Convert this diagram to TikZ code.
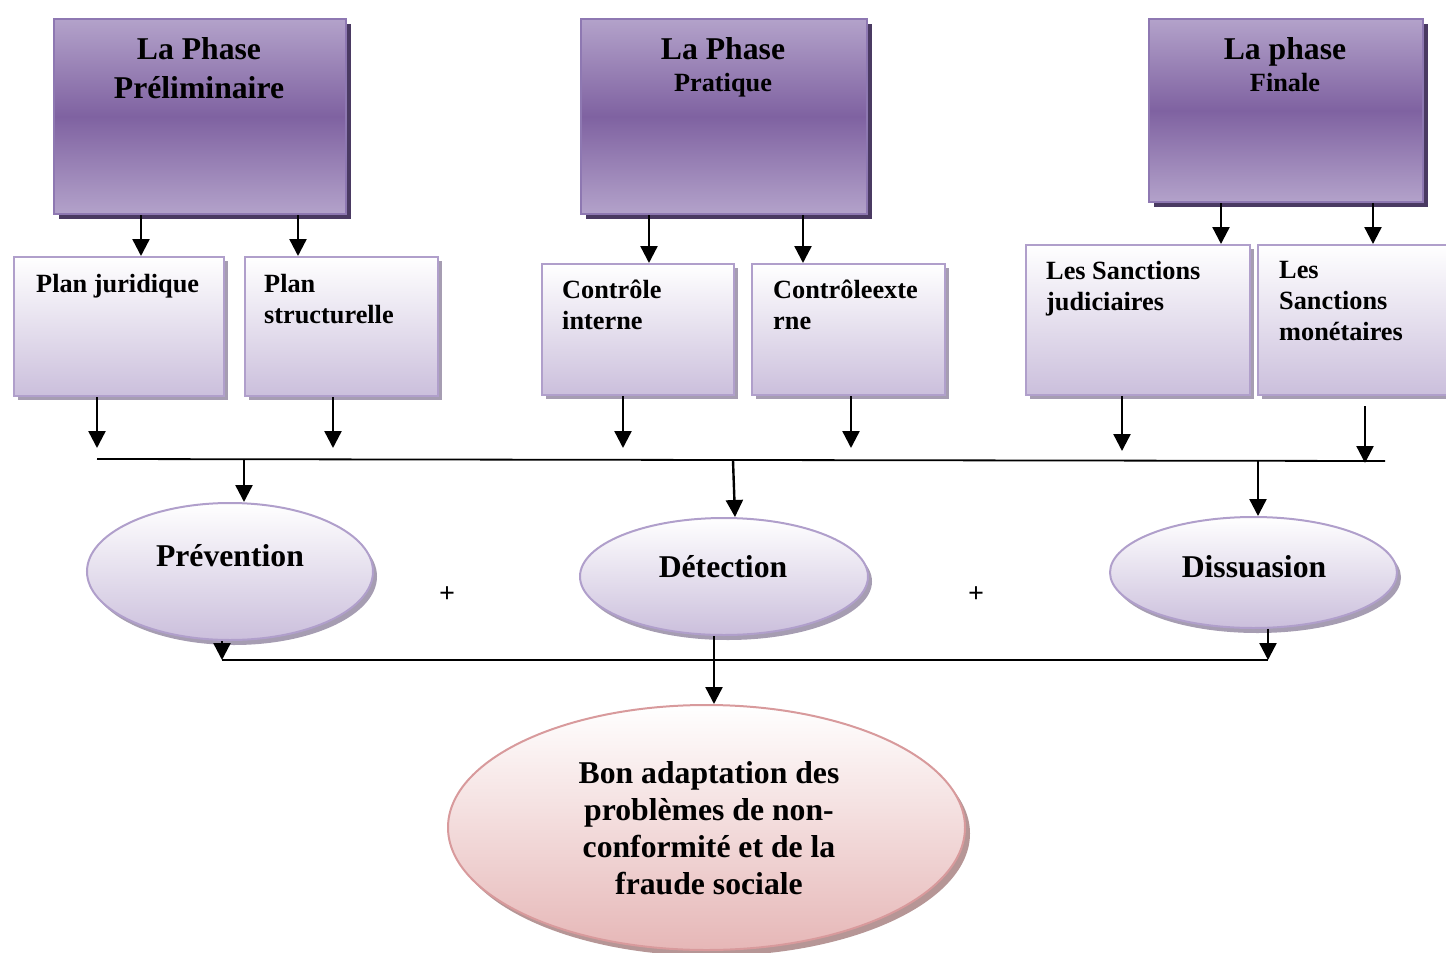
\documentclass[tikz,border=0pt]{standalone}
\usepackage{fontspec}
\setmainfont{Liberation Serif}
\usetikzlibrary{arrows.meta,shadows,shapes.geometric}

\definecolor{ptop}{HTML}{B3A2CA}
\definecolor{pmid}{HTML}{7F62A1}
\definecolor{pborder}{HTML}{8E78B2}
\definecolor{pshadow}{HTML}{4A3A62}
\definecolor{lbot}{HTML}{CBBFDC}
\definecolor{lborder}{HTML}{B09FCB}
\definecolor{lshadow}{HTML}{A69DB2}
\definecolor{rbot}{HTML}{E6B7B7}
\definecolor{rborder}{HTML}{D89A9C}
\definecolor{rshadow}{HTML}{B69696}

\newcommand{\bigfnt}{\fontsize{31.7}{39}\selectfont\bfseries}
\newcommand{\midfnt}{\fontsize{26.3}{31}\selectfont\bfseries}

\begin{document}
\begin{tikzpicture}[x=1pt,y=-1pt,
  phasebox/.style={rectangle, anchor=north west, inner sep=0pt, draw=pborder, line width=2pt,
    top color=ptop, bottom color=ptop, middle color=pmid,
    drop shadow={shadow xshift=5pt, shadow yshift=-5pt, fill=pshadow, opacity=1}},
  subbox/.style={rectangle, anchor=north west, inner sep=0pt, draw=lborder, line width=2pt,
    top color=white, bottom color=lbot,
    drop shadow={shadow xshift=4pt, shadow yshift=-4pt, fill=lshadow, opacity=1}},
  goal/.style={ellipse, inner sep=0pt, draw=lborder, line width=2pt,
    top color=white, bottom color=lbot,
    drop shadow={shadow xshift=4pt, shadow yshift=-5pt, fill=lshadow, opacity=1}},
  result/.style={ellipse, inner sep=0pt, draw=rborder, line width=2pt,
    top color=white, bottom color=rbot,
    drop shadow={shadow xshift=5pt, shadow yshift=-6pt, fill=rshadow, opacity=1}},
  ttl/.style={anchor=north, inner sep=0pt, align=center, font=\bigfnt},
  subtxt/.style={anchor=north west, inner sep=0pt, align=left, font=\midfnt},
  goaltxt/.style={anchor=base, inner sep=0pt, font=\bigfnt},
  arr/.style={line width=2.4pt, -{Triangle[width=17pt,length=17pt]}},
  ln/.style={line width=1.8pt},
  plussign/.style={inner sep=0pt}
]
\useasboundingbox (0,0) rectangle (1446,953);

% top phase boxes
\node[phasebox, minimum width=292pt, minimum height=195pt] (top1) at (53,18) {};
\node[phasebox, minimum width=286pt, minimum height=195pt] (top2) at (580,18) {};
\node[phasebox, minimum width=274pt, minimum height=183pt] (top3) at (1148,18) {};
\node[ttl] (top1t) at (199,37) {La Phase\\Préliminaire};
\node[ttl] (top2t) at (723,37) {La Phase\\[-7pt]{\midfnt Pratique}};
\node[ttl] (top3t) at (1285,37) {La phase\\[-7pt]{\midfnt Finale}};

% second row boxes
\node[subbox, minimum width=210pt, minimum height=139pt] (pj) at (13,256) {};
\node[subbox, minimum width=193pt, minimum height=139pt] (ps) at (244,256) {};
\node[subbox, minimum width=192pt, minimum height=131pt] (ci) at (541,263) {};
\node[subbox, minimum width=193pt, minimum height=131pt] (ce) at (751,263) {};
\node[subbox, minimum width=224pt, minimum height=150pt] (sj) at (1025,244) {};
\node[subbox, minimum width=210pt, minimum height=150pt] (sm) at (1257,244) {};
\node[subtxt] (pjt) at (36,274) {Plan juridique};
\node[subtxt] (pst) at (264,274) {Plan\\structurelle};
\node[subtxt] (cit) at (562,280) {Contrôle\\interne};
\node[subtxt] (cet) at (773,280) {Contrôleexte\\rne};
\node[subtxt] (sjt) at (1046,261) {Les Sanctions\\judiciaires};
\node[subtxt] (smt) at (1279,261) {Les\\Sanctions\\monétaires};

% arrows top -> second row
\draw[arr] ([xshift=88pt]top1.south west) -- ([xshift=128pt]pj.north west);
\draw[arr] ([xshift=245pt]top1.south west) -- ([xshift=54pt]ps.north west);
\draw[arr] ([xshift=69pt]top2.south west) -- ([xshift=108pt]ci.north west);
\draw[arr] ([xshift=223pt]top2.south west) -- ([xshift=52pt]ce.north west);
\draw[arr] ([xshift=73pt]top3.south west) -- ([xshift=196pt]sj.north west);
\draw[arr] ([xshift=225pt]top3.south west) -- ([xshift=116pt]sm.north west);

% collecting line
\coordinate (L1) at (97,459);
\coordinate (L2) at (1385,461);
\draw[ln] (L1) -- (L2);

% arrows second row -> line
\draw[arr] ([xshift=84pt]pj.south west) -- ++(0,51);
\draw[arr] ([xshift=89pt]ps.south west) -- ++(0,51);
\draw[arr] ([xshift=82pt]ci.south west) -- ++(0,52);
\draw[arr] ([xshift=100pt]ce.south west) -- ++(0,52);
\draw[arr] ([xshift=97pt]sj.south west) -- ++(0,55);
\draw[arr] ([xshift=108pt,yshift=-10pt]sm.south west) -- ++(0,57);

% goal ellipses
\node[goal, minimum width=286pt, minimum height=137pt] (prev) at (230,571.5) {};
\node[goal, minimum width=288pt, minimum height=117pt] (det) at (724,576.5) {};
\node[goal, minimum width=287pt, minimum height=111pt] (dis) at (1253.5,572.5) {};
\node[goaltxt] (prevt) at (230,566) {Prévention};
\node[goaltxt] (dett) at (723,577) {Détection};
\node[goaltxt] (dist) at (1254,577) {Dissuasion};
\node[plussign] (plus1) at (447,595) {\fontsize{28}{32}\selectfont\bfseries +};
\node[plussign] (plus2) at (976,595) {\fontsize{28}{32}\selectfont\bfseries +};

% line -> ellipses
\coordinate (C1) at (244,460);
\coordinate (C2) at (733,460.5);
\coordinate (C3) at (1258,461);
\draw[arr] (C1) -- ([xshift=14pt]prev.north);
\draw[arr] (C2) -- ([xshift=11pt]det.north);
\draw[arr] (C3) -- ([xshift=4.5pt]dis.north);

% result ellipse
\node[result, minimum width=517pt, minimum height=245pt] (big) at (706.5,827.5) {};
\node[ttl] (bigt) at (709,761) {Bon adaptation des\\[-2pt]problèmes de non-\\[-2pt]conformité et de la\\[-2pt]fraude sociale};

% bottom collecting line
\coordinate (B1) at (222,660);
\coordinate (B2) at (1268,660);
\draw[ln] (B1) -- (B2);
\draw[arr] ([xshift=-8pt]prev.south) -- (B1);
\draw[arr] ([xshift=14.5pt]dis.south) -- (B2);
\draw[arr] ([xshift=-10pt]det.south) -- ([xshift=7.5pt]big.north);
\end{tikzpicture}
\end{document}
